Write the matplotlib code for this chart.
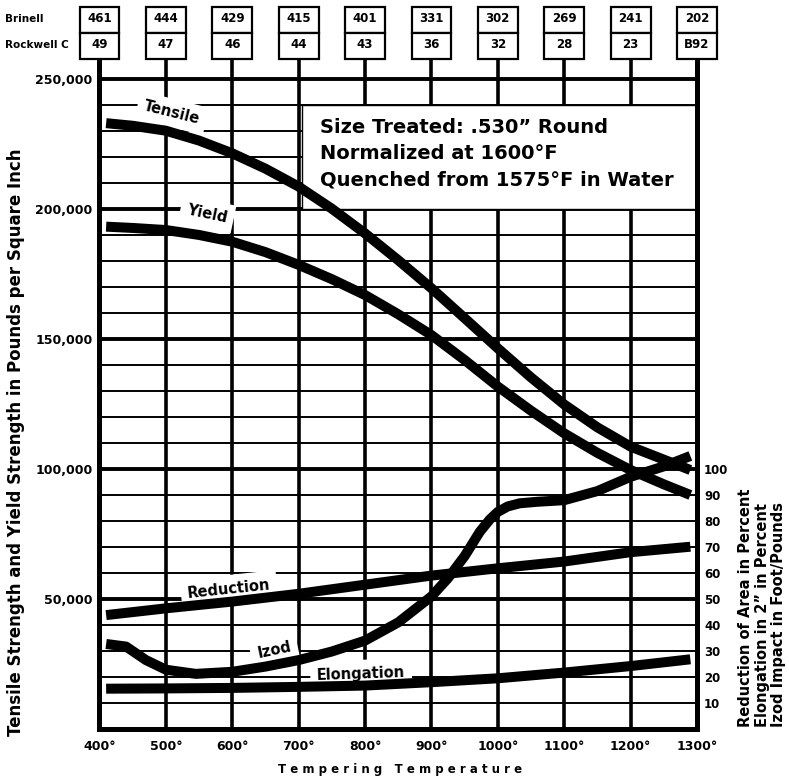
import numpy as np
import matplotlib.pyplot as plt
from matplotlib.patches import Rectangle
from matplotlib.transforms import blended_transform_factory

plt.rcParams['font.family'] = ['DejaVu Sans']
plt.rcParams['font.weight'] = 'bold'

# hardness table along the top
temps = [400, 500, 600, 700, 800, 900, 1000, 1100, 1200, 1300]
brinell = ['461', '444', '429', '415', '401', '331', '302', '269', '241', '202']
rockwell = ['49', '47', '46', '44', '43', '36', '32', '28', '23', 'B92']

# strength curves (psi)
strength_t = [410, 450, 500, 550, 600, 650, 700, 750, 800, 850, 900, 950,
              1000, 1050, 1100, 1150, 1200, 1250, 1290]
tensile = [233000, 232000, 230100, 226300, 221400, 215500, 208600, 200100,
           190600, 180300, 169500, 158000, 146400, 135200, 124800, 116000,
           108600, 103600, 99600]
yield_str = [193200, 192700, 191900, 190000, 187400, 183400, 178500, 173000,
             166900, 159500, 151500, 141900, 131700, 122400, 113700, 106200,
             99600, 94100, 90000]

# right axis curves
ductility_t = [410, 500, 600, 700, 800, 900, 1000, 1100, 1200, 1290]
reduction = [43.8, 46.4, 49.0, 52.0, 55.5, 59.0, 61.8, 64.4, 68.0, 70.1]
elongation = [15.5, 15.6, 15.8, 16.2, 16.7, 18.0, 19.5, 21.7, 24.2, 26.8]

izod_t = [410, 440, 470, 500, 545, 600, 650, 700, 750, 800, 850, 900, 925,
          950, 973, 988, 1000, 1015, 1033, 1060, 1100, 1150, 1200, 1250, 1290]
izod = [32.7, 31.7, 26.5, 22.8, 21.2, 22.0, 24.0, 26.5, 29.8, 34.0, 41.0,
        51.0, 58.0, 66.5, 75.9, 80.6, 83.5, 85.6, 86.8, 87.4, 88.0, 91.5,
        97.0, 101.0, 105.0]

fig = plt.figure(figsize=(7.89, 7.79), dpi=100)
ax = fig.add_axes([0.1261, 0.0642, 0.7573, 0.8588])
ax.set_xlim(400, 1300)
ax.set_ylim(0, 257300)

# grid
ax.set_xticks(temps)
ax.set_xticklabels([f'{t}°' for t in temps], fontsize=9)
ax.set_yticks(range(0, 250001, 50000))
ax.set_yticklabels([''] + [f'{v:,}' for v in range(50000, 250001, 50000)], fontsize=9)
ax.set_yticks(range(0, 250001, 10000), minor=True)
ax.tick_params(which='both', length=0)
ax.tick_params(axis='x', pad=8)
ax.tick_params(axis='y', pad=5)
ax.set_axisbelow(True)
ax.grid(axis='x', color='black', lw=2.6)
ax.grid(axis='y', which='major', color='black', lw=2.8)
ax.grid(axis='y', which='minor', color='black', lw=1.4)
for s in ['left', 'right', 'bottom']:
    ax.spines[s].set_linewidth(3.6)
ax.spines['top'].set_visible(False)

# note box
ax.add_patch(Rectangle((705, 200000), 595, 40000, facecolor='white',
                       edgecolor='black', lw=1.0, zorder=1))
ax.text(732, 221300, 'Size Treated: .530” Round\nNormalized at 1600°F\nQuenched from 1575°F in Water',
        fontsize=14, va='center', ha='left', linespacing=1.5, zorder=1.5)

lw = 7.2
ax.plot(strength_t, tensile, color='black', lw=lw, solid_capstyle='butt',
        solid_joinstyle='round', zorder=3)
ax.plot(strength_t, yield_str, color='black', lw=lw, solid_capstyle='butt',
        solid_joinstyle='round', zorder=3)

box = dict(boxstyle='square,pad=0.45', fc='white', ec='none')
ax.text(509, 236900, 'Tensile', rotation=-14, fontsize=10.5, ha='center', va='center',
        rotation_mode='anchor', bbox=box, zorder=2)
ax.text(562, 198100, 'Yield', rotation=-12, fontsize=10.5, ha='center', va='center',
        rotation_mode='anchor', bbox=box, zorder=2)

# right axis
ax2 = ax.twinx()
ax2.set_ylim(0, 257.3)
ax2.set_yticks(range(10, 101, 10))
ax2.set_yticklabels([str(v) for v in range(10, 101, 10)], fontsize=8.5)
ax2.tick_params(length=0, pad=5)
for s in ax2.spines.values():
    s.set_visible(False)

for ys, xs in [(reduction, ductility_t), (elongation, ductility_t), (izod, izod_t)]:
    ax2.plot(xs, ys, color='black', lw=lw, solid_capstyle='butt',
             solid_joinstyle='round', zorder=3)

ax2.text(595, 53.8, 'Reduction', rotation=6, fontsize=10.5, ha='center', va='center',
         rotation_mode='anchor', bbox=box, zorder=2)
ax2.text(663, 30.4, 'Izod', rotation=12, fontsize=10.5, ha='center', va='center',
         rotation_mode='anchor', bbox=box, zorder=2)
ax2.text(794, 21.2, 'Elongation', rotation=2, fontsize=10.5, ha='center', va='center',
         rotation_mode='anchor', bbox=box, zorder=2)

# hardness boxes
trans = blended_transform_factory(ax.transData, ax.transAxes)
half_w = 30
y0, y1, y2 = 1.0015, 1.0404, 1.0792
for t, b, r in zip(temps, brinell, rockwell):
    for lo, hi, label in [(y1, y2, b), (y0, y1, r)]:
        ax.add_patch(Rectangle((t - half_w, lo), 2 * half_w, hi - lo, transform=trans,
                               facecolor='white', edgecolor='black', lw=1.6,
                               clip_on=False, zorder=4))
        ax.text(t, (lo + hi) / 2 + 0.002, label, transform=trans, fontsize=8.5,
                ha='center', va='center', zorder=5)

fig.text(5 / 789, 1 - 19 / 779, 'Brinell', fontsize=7.5, ha='left', va='center')
fig.text(5 / 789, 1 - 45 / 779, 'Rockwell C', fontsize=7.5, ha='left', va='center')

fig.text(16 / 789, 1 - 442 / 779,
         'Tensile Strength and Yield Strength in Pounds per Square Inch',
         rotation=90, fontsize=12, ha='center', va='center')
fig.text(762 / 789, 1 - 727 / 779,
         'Reduction of Area in Percent\nElongation in 2” in Percent\nIzod Impact in Foot/Pounds',
         rotation=90, fontsize=10.5, ha='center', va='bottom', multialignment='left',
         linespacing=1.1)
fig.text(400 / 789, 1 - 770 / 779, 'T e m p e r i n g   T e m p e r a t u r e',
         fontsize=8.5, ha='center', va='center')

fig.savefig('out.png', dpi=100)
